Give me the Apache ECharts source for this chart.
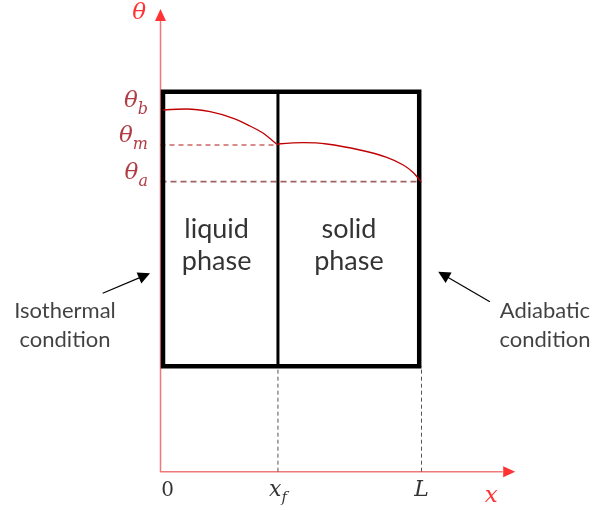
<!DOCTYPE html>
<html><head><meta charset="utf-8">
<script src="https://cdn.jsdelivr.net/npm/echarts@6/dist/echarts.min.js"></script>
<style>html,body{margin:0;padding:0;background:#fff}#c{width:592px;height:510px}</style>
</head><body><div id="c"></div>
<script>
// ---- data (x in units where L = 10, theta in arbitrary units) ----
const L = 10;
const xF = 4.5;
const xAxisEnd = 13.36;
const thetaAxisEnd = 45.67;
const thetaB = 36.17, thetaM = 32.67, thetaA = 29.0;
const boxX = [0.096, 9.912];
const boxY = [10.55, 38.0];
const liquidX = [0.1, 1.0, 1.9, 2.79, 3.43, 3.94, 4.26, 4.5];
const liquidY = [36.17, 36.27, 36.0, 35.34, 34.57, 33.84, 33.17, 32.67];
const solidX = [4.5, 5.47, 6.37, 7.64, 8.67, 9.3, 9.69, 9.98];
const solidY = [32.77, 32.9, 32.77, 32.17, 31.44, 30.67, 29.9, 29.0];
const xTickValues = [0, xF, L];
const xTickLabels = ['{n|0}', '{i|x}{s|f}', '{i|L}'];
const thetaTickValues = [thetaB, thetaM, thetaA];
const thetaTickLabels = ['{t|θ}{s|b}', '{t|θ}{s|m}', '{t|θ}{s|a}'];
const axisTitles = ['θ', 'x'];
const axisTitleX = [-0.82, 12.67];
const axisTitleY = [45.87, -2.43];
const phaseLabels = ['liquid\nphase', 'solid\nphase'];
const phaseX = [2.15, 7.22];
const phaseY = [22.67, 22.67];
const conditionLabels = ['Isothermal\ncondition', 'Adiabatic\ncondition'];
const conditionX = [-3.66, 14.73];
const conditionY = [14.67, 14.67];
const arrowFrom = [[-2.215, 17.84], [12.62, 17.0]];
const arrowTo = [[-0.613, 19.61], [10.84, 19.7]];

// ---- layout (pixel scale of the drawing) ----
const ORIGIN_PX = [160.5, 471.7], PX_PER_X = 26.1, PX_PER_Y = 10, W = 592, H = 510;

const zip = (xs, ys) => xs.map((x, i) => [x, ys[i]]);
const serif = 'DejaVu Serif';
const dark = '#9c0a14';

const chart = echarts.init(document.getElementById('c'), null, {renderer: 'canvas'});
chart.setOption({
  animation: false,
  backgroundColor: '#fff',
  grid: {left: 0, right: 0, top: 0, bottom: 0},
  xAxis: {type: 'value', show: false, min: -ORIGIN_PX[0] / PX_PER_X, max: (W - ORIGIN_PX[0]) / PX_PER_X},
  yAxis: {type: 'value', show: false, min: -(H - ORIGIN_PX[1]) / PX_PER_Y, max: ORIGIN_PX[1] / PX_PER_Y},
  series: [
    { // axes
      type: 'line', silent: true, symbol: 'none', z: 1,
      data: [[0, thetaAxisEnd - 0.6], [0, 0], [xAxisEnd - 0.25, 0]],
      lineStyle: {color: '#f07878', width: 1.5}
    },
    { // axis arrows
      type: 'scatter', silent: true, z: 2, symbol: 'triangle', symbolSize: [11, 12],
      itemStyle: {color: '#ff0000'},
      data: [{value: [0, thetaAxisEnd], symbolRotate: 0}, {value: [xAxisEnd, 0], symbolRotate: -90}]
    },
    { // theta_m dashed
      type: 'line', silent: true, symbol: 'none', z: 3,
      data: [[0, thetaM], [xF, thetaM]],
      lineStyle: {color: '#b01818', width: 1.2, type: [5, 4]}
    },
    { // theta_a dashed
      type: 'line', silent: true, symbol: 'none', z: 3,
      data: [[0, thetaA], [L, thetaA]],
      lineStyle: {color: '#a06262', width: 1.8, type: [6, 4]}
    },
    { // x_f drop line
      type: 'line', silent: true, symbol: 'none', z: 3,
      data: [[xF, 0], [xF, boxY[0]]],
      lineStyle: {color: '#555', width: 1, type: [4, 3]}
    },
    { // L drop line
      type: 'line', silent: true, symbol: 'none', z: 3,
      data: [[L, 0], [L, boxY[0]]],
      lineStyle: {color: '#555', width: 1, type: [4, 3]}
    },
    { // box
      type: 'line', silent: true, symbol: 'none', z: 4,
      data: [[boxX[0], boxY[0]], [boxX[1], boxY[0]], [boxX[1], boxY[1]], [boxX[0], boxY[1]], [boxX[0], boxY[0]]],
      lineStyle: {color: '#000', width: 4.5, join: 'miter', cap: 'square'}
    },
    { // interface
      type: 'line', silent: true, symbol: 'none', z: 4,
      data: [[xF, boxY[0]], [xF, boxY[1]]],
      lineStyle: {color: '#000', width: 3}
    },
    { // liquid temperature profile
      type: 'line', silent: true, symbol: 'none', z: 5, smooth: 0.3,
      data: zip(liquidX, liquidY),
      lineStyle: {color: '#c00000', width: 1.3}
    },
    { // solid temperature profile
      type: 'line', silent: true, symbol: 'none', z: 5, smooth: 0.3,
      data: zip(solidX, solidY),
      lineStyle: {color: '#c00000', width: 1.3}
    },
    { // condition arrows
      type: 'lines', coordinateSystem: 'cartesian2d', silent: true, z: 5,
      symbol: ['none', 'triangle'], symbolSize: [11, 12],
      lineStyle: {color: '#000', width: 1.2, opacity: 1},
      itemStyle: {color: '#000'},
      data: arrowFrom.map((f, i) => ({coords: [f, arrowTo[i]]}))
    },
    { // x tick labels
      type: 'scatter', silent: true, z: 6, symbolSize: 1, itemStyle: {color: 'transparent'},
      data: xTickValues.map((v, i) => ({value: [v, 0], name: xTickLabels[i],
        label: {offset: i === 0 ? [7, 19] : [0, 19]}})),
      label: {
        show: true, position: 'inside', formatter: p => p.name,
        rich: {
          n: {fontFamily: serif, fontSize: 20, color: '#000', lineHeight: 30},
          i: {fontFamily: serif, fontStyle: 'italic', fontSize: 22, color: '#000', lineHeight: 30},
          s: {fontFamily: serif, fontStyle: 'italic', fontSize: 15, color: '#000', verticalAlign: 'bottom', lineHeight: 14}
        }
      }
    },
    { // theta tick labels
      type: 'scatter', silent: true, z: 6, symbolSize: 1, itemStyle: {color: 'transparent'},
      data: thetaTickValues.map((v, i) => ({value: [0, v], name: thetaTickLabels[i]})),
      label: {
        show: true, position: 'left', distance: 12, offset: [0, -9], formatter: p => p.name,
        rich: {
          t: {fontFamily: serif, fontStyle: 'italic', fontSize: 23, color: dark, lineHeight: 34},
          s: {fontFamily: serif, fontStyle: 'italic', fontSize: 16, color: dark, verticalAlign: 'bottom', lineHeight: 16}
        }
      }
    },
    { // axis titles
      type: 'scatter', silent: true, z: 6, symbolSize: 1, itemStyle: {color: 'transparent'},
      data: axisTitles.map((t, i) => ({value: [axisTitleX[i], axisTitleY[i]], name: t})),
      label: {show: true, position: 'inside', formatter: p => p.name,
        fontFamily: serif, fontStyle: 'italic', fontSize: 23, color: '#ff0000'}
    },
    { // phase labels
      type: 'scatter', silent: true, z: 6, symbolSize: 1, itemStyle: {color: 'transparent'},
      data: phaseLabels.map((t, i) => ({value: [phaseX[i], phaseY[i]], name: t})),
      label: {show: true, position: 'inside', formatter: p => p.name, align: 'center',
        fontFamily: 'Lato', fontSize: 27, lineHeight: 32, color: '#000'}
    },
    { // condition labels
      type: 'scatter', silent: true, z: 6, symbolSize: 1, itemStyle: {color: 'transparent'},
      data: conditionLabels.map((t, i) => ({value: [conditionX[i], conditionY[i]], name: t})),
      label: {show: true, position: 'inside', formatter: p => p.name, align: 'center',
        fontFamily: 'Lato', fontSize: 22, lineHeight: 29, color: '#111'}
    }
  ]
});
</script></body></html>
